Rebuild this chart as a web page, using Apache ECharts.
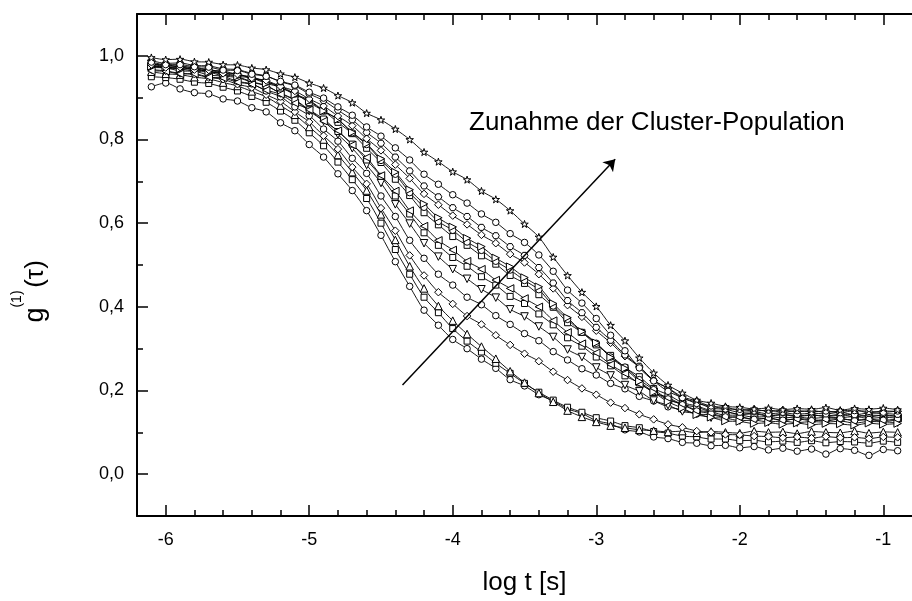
<!DOCTYPE html>
<html>
<head>
<meta charset="utf-8">
<script src="https://cdn.jsdelivr.net/npm/echarts@6.0.0/dist/echarts.min.js"></script>
<style>
html,body{margin:0;padding:0;background:#fff;}
#chart{width:912px;height:601px;}
</style>
</head>
<body>
<div id="chart"></div>
<script>
// ---- data ----
const logT = [-6.1,-6.0,-5.9,-5.8,-5.7,-5.6,-5.5,-5.4,-5.3,-5.2,-5.1,-5.0,-4.9,-4.8,-4.7,-4.6,-4.5,-4.4,-4.3,-4.2,-4.1,-4.0,-3.9,-3.8,-3.7,-3.6,-3.5,-3.4,-3.3,-3.2,-3.1,-3.0,-2.9,-2.8,-2.7,-2.6,-2.5,-2.4,-2.3,-2.2,-2.1,-2.0,-1.9,-1.8,-1.7,-1.6,-1.5,-1.4,-1.3,-1.2,-1.1,-1.0,-0.9];

const s1Circles = [0.926,0.935,0.921,0.912,0.909,0.897,0.892,0.876,0.866,0.840,0.821,0.788,0.758,0.718,0.678,0.630,0.571,0.508,0.449,0.392,0.356,0.322,0.300,0.275,0.253,0.226,0.211,0.190,0.175,0.156,0.145,0.128,0.120,0.106,0.101,0.089,0.085,0.076,0.074,0.068,0.069,0.063,0.066,0.058,0.062,0.055,0.060,0.048,0.061,0.057,0.045,0.059,0.056];
const s2Squares = [0.950,0.948,0.944,0.937,0.934,0.925,0.916,0.903,0.889,0.868,0.846,0.816,0.785,0.746,0.704,0.659,0.600,0.537,0.478,0.423,0.386,0.348,0.318,0.292,0.265,0.241,0.217,0.196,0.177,0.160,0.148,0.135,0.127,0.116,0.111,0.102,0.098,0.091,0.089,0.084,0.084,0.080,0.081,0.077,0.079,0.076,0.080,0.075,0.078,0.077,0.074,0.079,0.076];
const s3Triangles = [0.962,0.957,0.955,0.949,0.945,0.936,0.928,0.915,0.902,0.881,0.859,0.830,0.800,0.763,0.722,0.678,0.621,0.560,0.497,0.444,0.402,0.367,0.335,0.305,0.276,0.246,0.219,0.194,0.173,0.152,0.137,0.125,0.116,0.111,0.106,0.104,0.101,0.103,0.099,0.102,0.100,0.098,0.103,0.100,0.101,0.097,0.102,0.100,0.099,0.103,0.098,0.101,0.100];
const s4Diamonds = [0.967,0.964,0.958,0.956,0.948,0.944,0.932,0.924,0.907,0.891,0.866,0.842,0.809,0.777,0.734,0.694,0.636,0.582,0.523,0.475,0.435,0.407,0.378,0.358,0.332,0.309,0.288,0.270,0.245,0.225,0.205,0.190,0.171,0.158,0.143,0.131,0.119,0.112,0.103,0.100,0.095,0.094,0.091,0.090,0.087,0.089,0.086,0.090,0.087,0.088,0.085,0.089,0.088];
const s5Circles = [0.972,0.971,0.964,0.963,0.954,0.951,0.939,0.933,0.916,0.902,0.878,0.857,0.825,0.796,0.755,0.719,0.665,0.616,0.559,0.516,0.478,0.452,0.423,0.405,0.379,0.358,0.336,0.319,0.293,0.273,0.252,0.237,0.217,0.204,0.186,0.175,0.161,0.154,0.144,0.142,0.136,0.137,0.131,0.134,0.128,0.133,0.130,0.127,0.132,0.129,0.131,0.126,0.130];
const s6TriDown = [0.981,0.974,0.973,0.966,0.964,0.955,0.950,0.938,0.929,0.910,0.894,0.868,0.844,0.812,0.779,0.739,0.696,0.645,0.599,0.552,0.520,0.490,0.467,0.442,0.422,0.394,0.377,0.353,0.328,0.298,0.280,0.255,0.236,0.213,0.198,0.176,0.165,0.150,0.145,0.135,0.134,0.128,0.129,0.125,0.127,0.123,0.126,0.124,0.127,0.122,0.126,0.125,0.123];
const s13Squares = [0.977,0.970,0.969,0.963,0.961,0.952,0.948,0.937,0.928,0.911,0.895,0.871,0.849,0.819,0.789,0.751,0.712,0.665,0.622,0.577,0.547,0.518,0.497,0.472,0.452,0.425,0.408,0.383,0.357,0.326,0.306,0.280,0.259,0.235,0.218,0.195,0.183,0.167,0.160,0.150,0.149,0.143,0.146,0.140,0.143,0.139,0.142,0.138,0.141,0.143,0.137,0.141,0.139];
const s7TriLeft = [0.964,0.963,0.957,0.957,0.949,0.947,0.937,0.932,0.918,0.908,0.887,0.871,0.844,0.821,0.787,0.757,0.714,0.677,0.630,0.593,0.559,0.536,0.509,0.490,0.464,0.444,0.420,0.400,0.367,0.339,0.312,0.290,0.262,0.241,0.216,0.197,0.178,0.167,0.153,0.149,0.141,0.141,0.136,0.138,0.134,0.137,0.133,0.136,0.135,0.138,0.133,0.136,0.134];
const s8Squares = [0.983,0.976,0.976,0.970,0.968,0.960,0.957,0.946,0.939,0.923,0.910,0.888,0.868,0.841,0.814,0.779,0.745,0.705,0.666,0.625,0.596,0.568,0.547,0.522,0.502,0.475,0.456,0.429,0.399,0.362,0.339,0.309,0.284,0.255,0.233,0.205,0.190,0.171,0.163,0.152,0.150,0.143,0.144,0.139,0.142,0.138,0.141,0.139,0.143,0.137,0.141,0.140,0.138];
const s14Circles = [0.979,0.979,0.973,0.973,0.965,0.964,0.954,0.950,0.937,0.928,0.909,0.894,0.869,0.848,0.816,0.788,0.750,0.717,0.673,0.638,0.604,0.583,0.555,0.535,0.509,0.488,0.463,0.441,0.402,0.370,0.339,0.313,0.280,0.256,0.226,0.202,0.180,0.166,0.151,0.145,0.137,0.136,0.131,0.134,0.129,0.132,0.128,0.131,0.133,0.128,0.131,0.129,0.132];
const s9TriRight = [0.975,0.974,0.969,0.969,0.961,0.959,0.951,0.947,0.934,0.925,0.907,0.892,0.868,0.848,0.817,0.790,0.754,0.722,0.680,0.646,0.613,0.591,0.564,0.544,0.517,0.496,0.470,0.448,0.408,0.374,0.341,0.314,0.279,0.253,0.222,0.196,0.173,0.158,0.142,0.136,0.127,0.126,0.121,0.123,0.119,0.122,0.118,0.121,0.120,0.117,0.122,0.119,0.121];
const s15Diamonds = [0.979,0.972,0.973,0.967,0.966,0.958,0.956,0.947,0.941,0.927,0.916,0.897,0.880,0.856,0.833,0.802,0.774,0.740,0.707,0.670,0.644,0.618,0.597,0.572,0.552,0.526,0.506,0.478,0.444,0.404,0.376,0.343,0.314,0.282,0.256,0.224,0.206,0.185,0.175,0.162,0.160,0.153,0.155,0.150,0.153,0.149,0.152,0.148,0.151,0.153,0.147,0.151,0.150];
const s10Hexagons = [0.989,0.982,0.983,0.977,0.976,0.969,0.967,0.958,0.952,0.938,0.928,0.909,0.893,0.870,0.847,0.817,0.791,0.758,0.725,0.689,0.663,0.637,0.616,0.590,0.570,0.544,0.523,0.494,0.457,0.415,0.386,0.351,0.320,0.285,0.258,0.224,0.205,0.182,0.172,0.158,0.155,0.148,0.149,0.144,0.147,0.143,0.146,0.144,0.148,0.142,0.146,0.145,0.143];
const s11Circles = [0.985,0.979,0.979,0.974,0.973,0.966,0.965,0.956,0.951,0.939,0.930,0.913,0.899,0.878,0.858,0.830,0.808,0.780,0.751,0.717,0.693,0.668,0.648,0.622,0.602,0.575,0.554,0.524,0.485,0.440,0.409,0.372,0.332,0.295,0.254,0.223,0.198,0.183,0.169,0.163,0.156,0.155,0.151,0.153,0.148,0.152,0.149,0.151,0.147,0.152,0.150,0.148,0.151];
const s12Stars = [0.996,0.991,0.992,0.986,0.985,0.979,0.978,0.971,0.967,0.957,0.949,0.935,0.923,0.905,0.888,0.863,0.847,0.825,0.800,0.770,0.747,0.723,0.704,0.677,0.657,0.630,0.598,0.567,0.519,0.475,0.435,0.401,0.356,0.319,0.278,0.242,0.213,0.194,0.177,0.170,0.162,0.160,0.156,0.158,0.154,0.157,0.155,0.159,0.153,0.157,0.155,0.158,0.154];

const xMajorTicks = [-6,-5,-4,-3,-2,-1];
const xMinorTicks = [-5.8,-5.6,-5.4,-5.2,-4.8,-4.6,-4.4,-4.2,-3.8,-3.6,-3.4,-3.2,-2.8,-2.6,-2.4,-2.2,-1.8,-1.6,-1.4,-1.2];
const yMajorTicks = [0,0.2,0.4,0.6,0.8,1.0];
const yMinorTicks = [0.1,0.3,0.5,0.7,0.9];
const arrowFrom = [-4.35,0.213];
const arrowTo = [-2.868,0.753];

// ---- chart ----
const FONT = '"Liberation Sans", Arial, sans-serif';
const STAR = 'path://M50,0 L61,35 L98,35 L68,57 L79,91 L50,70 L21,91 L32,57 L2,35 L39,35 Z';
const HEX = 'path://M25,0 L75,0 L100,43 L75,86 L25,86 L0,43 Z';

function mk(name, vals, symbol, size, rotate) {
  return {
    type: 'line', name: name,
    data: logT.map((x, i) => [x, vals[i]]),
    symbol: symbol, symbolSize: size, symbolRotate: rotate, symbolKeepAspect: true,
    smooth: 0.3, showSymbol: true, clip: true,
    lineStyle: { color: '#000', width: 0.9 },
    itemStyle: { color: '#fff', borderColor: '#000', borderWidth: 1 },
    emphasis: { disabled: true },
    animation: false
  };
}

const series = [
  mk('s1', s1Circles, 'circle', 6.5, 0),
  mk('s2', s2Squares, 'rect', 6, 0),
  mk('s3', s3Triangles, 'triangle', 7.5, 0),
  mk('s4', s4Diamonds, 'diamond', 7.5, 0),
  mk('s5', s5Circles, 'circle', 6.5, 0),
  mk('s6', s6TriDown, 'triangle', 7.5, 180),
  mk('s13', s13Squares, 'rect', 6, 0),
  mk('s7', s7TriLeft, 'triangle', 7.5, 90),
  mk('s8', s8Squares, 'rect', 6, 0),
  mk('s14', s14Circles, 'circle', 6.5, 0),
  mk('s9', s9TriRight, 'triangle', 7.5, -90),
  mk('s15', s15Diamonds, 'diamond', 7.5, 0),
  mk('s10', s10Hexagons, HEX, 7, 0),
  mk('s11', s11Circles, 'circle', 6.5, 0),
  mk('s12', s12Stars, STAR, 7.5, 0)
];
// annotation arrow, drawn in data coordinates
series.push({
  type: 'lines', coordinateSystem: 'cartesian2d', silent: true, animation: false, z: 10,
  symbol: ['none', 'arrow'], symbolSize: 11,
  lineStyle: { color: '#000', width: 1.5, opacity: 1, curveness: 0 },
  data: [{ coords: [arrowFrom, arrowTo] }]
});

const XMIN = -6.2, XMAX = -0.8, YMIN = -0.1, YMAX = 1.1;
function xAx(pos, ticks, len, line, labels) {
  const a = {
    type: 'value', position: pos, min: XMIN, max: XMAX,
    axisLine: { show: line, onZero: false, lineStyle: { color: '#000', width: 2 } },
    axisTick: { show: true, inside: true, length: len, customValues: ticks, lineStyle: { color: '#000', width: 1.5 } },
    axisLabel: { show: false },
    splitLine: { show: false }
  };
  if (labels) {
    a.axisLabel = { show: true, customValues: ticks, margin: 15, fontSize: 18, fontFamily: FONT, color: '#000', formatter: v => String(v) };
    a.name = 'log t [s]';
    a.nameLocation = 'middle';
    a.nameGap = 54;
    a.nameTextStyle = { fontSize: 26, fontFamily: FONT, color: '#000' };
  }
  return a;
}
function yAx(ticks, len, line, labels) {
  const a = {
    type: 'value', position: 'left', min: YMIN, max: YMAX,
    axisLine: { show: line, onZero: false, lineStyle: { color: '#000', width: 2 } },
    axisTick: { show: true, inside: true, length: len, customValues: ticks, lineStyle: { color: '#000', width: 1.5 } },
    axisLabel: { show: false },
    splitLine: { show: false }
  };
  if (labels) {
    a.axisLabel = { show: true, customValues: ticks, margin: 13, fontSize: 18, fontFamily: FONT, color: '#000', formatter: v => v.toFixed(1).replace('.', ',') };
  }
  return a;
}

const chart = echarts.init(document.getElementById('chart'), null, { renderer: 'canvas' });
chart.setOption({
  animation: false,
  backgroundColor: '#fff',
  grid: { left: 137, top: 14, width: 778, height: 505, containLabel: false },
  xAxis: [
    xAx('bottom', xMajorTicks, 11, true, true),
    xAx('bottom', xMinorTicks, 6, false, false),
    xAx('top', xMajorTicks, 11, true, false),
    xAx('top', xMinorTicks, 6, false, false)
  ],
  yAxis: [
    yAx(yMajorTicks, 11, true, true),
    yAx(yMinorTicks, 6, false, false)
  ],
  series: series,
  graphic: [
    { type: 'text', x: 36, y: 315, rotation: Math.PI / 2,
      style: { text: 'g', fontSize: 27, fontFamily: FONT, fill: '#000', align: 'center', verticalAlign: 'middle' } },
    { type: 'text', x: 17, y: 299, rotation: Math.PI / 2,
      style: { text: '(1)', fontSize: 14, fontFamily: FONT, fill: '#000', align: 'center', verticalAlign: 'middle' } },
    { type: 'text', x: 36, y: 274, rotation: Math.PI / 2,
      style: { text: '(τ)', fontSize: 26, fontFamily: FONT, fill: '#000', align: 'center', verticalAlign: 'middle' } },
    { type: 'text', x: 469, y: 123,
      style: { text: 'Zunahme der Cluster-Population', fontSize: 26, fontFamily: FONT, fill: '#000', align: 'left', verticalAlign: 'middle' } }
  ]
});
</script>
</body>
</html>
